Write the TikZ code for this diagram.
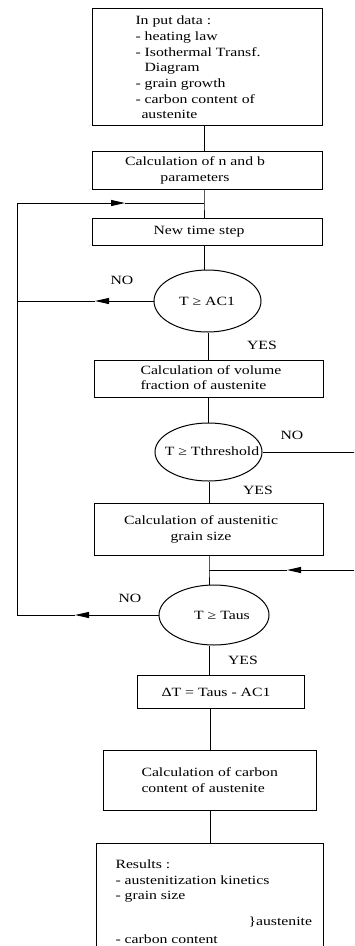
\documentclass[tikz,border=0pt]{standalone}
\usepackage{fontspec}
\setmainfont{Liberation Serif}[FakeStretch=1.25]
\usetikzlibrary{arrows.meta,shapes.geometric}
\begin{document}
\begin{tikzpicture}[x=1pt,y=-1pt, line width=1pt,
  every node/.style={font=\fontsize{12.6}{15.7}\selectfont, inner sep=0pt},
  box/.style={draw, rectangle},
  oval/.style={draw, ellipse},
  ctxt/.style={align=center},
  ltxt/.style={align=left, anchor=west},
  arr/.style={-{Triangle[length=14pt,width=6pt]}}
]
\useasboundingbox (0,0) rectangle (354,946);
\clip (0,0) rectangle (354,946);
% boxes
\node[box, minimum width=230pt, minimum height=117pt] (in) at (207,66.5) {};
\node[ltxt] (intxt) at (135,67.5) {In put data :\\- heating law\\- Isothermal Transf.\\\hspace*{9pt}Diagram\\- grain growth\\- carbon content of\\\hspace*{6pt}austenite};
\node[box, minimum width=230pt, minimum height=38pt] (cnb) at (207,170) {};
\node[ctxt] (cnbtxt) at (195,170.5) {Calculation of n and b\\parameters};
\node[box, minimum width=230pt, minimum height=27pt] (nts) at (207,231.5) {};
\node[ctxt] (ntstxt) at (199,231.5) {New time step};
\node[oval, minimum width=107pt, minimum height=62pt] (e1) at (207.5,301) {};
\node[ctxt] (e1txt) at (207,301) {T ≥ AC1};
\node[box, minimum width=229pt, minimum height=37pt] (vf) at (208.5,378.5) {};
\node[ltxt] (vftxt) at (140,377.5) {Calculation of volume\\fraction of austenite};
\node[oval, minimum width=107pt, minimum height=58pt] (e2) at (208.5,452) {};
\node[ctxt] (e2txt) at (212,451) {T ≥ Tthreshold};
\node[box, minimum width=229pt, minimum height=52pt] (gs) at (208.5,529) {};
\node[ctxt] (gstxt) at (201,529.5) {Calculation of austenitic\\grain size};
\node[oval, minimum width=110pt, minimum height=60pt] (e3) at (214,615) {};
\node[ctxt] (e3txt) at (222,615) {T ≥ Taus};
\node[box, minimum width=167pt, minimum height=33pt] (dt) at (220.5,691.5) {};
\node[ctxt] (dttxt) at (216,692.5) {ΔT = Taus - AC1};
\node[box, minimum width=213pt, minimum height=60pt] (cc) at (209.5,780) {};
\node[ltxt] (cctxt) at (141,780) {Calculation of carbon\\content of austenite};
\node[box, minimum width=227pt, minimum height=140pt] (res) at (209.5,913) {};
\node[ltxt] (restxt) at (115,881) {Results :\\- austenitization kinetics\\- grain size};
\node[ltxt] (restxt2) at (248,922) {\}austenite};
\node[ltxt] (restxt3) at (115,939) {- carbon content};
% labels
\node (no1) at (122,280) {NO};
\node (yes1) at (262,345) {YES};
\node (no2) at (292,435) {NO};
\node (yes2) at (258,490) {YES};
\node (no3) at (130,598) {NO};
\node (yes3) at (243,660) {YES};
% coordinates
\coordinate (xa) at (204,0);
\coordinate (xb) at (208,0);
\coordinate (xc) at (210,0);
\coordinate (j1) at (204,203);
\coordinate (lt) at (17,203);
\coordinate (l1) at (17,301);
\coordinate (l3) at (17,615);
\coordinate (j2) at (209,570);
\coordinate (r2) at (360,452);
\coordinate (r3) at (360,570);
\coordinate (a1) at (125,203);
\coordinate (a2) at (95,301);
\coordinate (a3) at (75,615);
\coordinate (a4) at (287,570);
% connectors
\draw (in.south -| xa) -- (cnb.north -| xa);
\draw (cnb.south -| xa) -- (j1) -- (nts.north -| xa);
\draw (nts.south -| xa) -- (e1.north -| xa);
\draw (e1.south -| xb) -- (vf.north -| xb);
\draw (vf.south -| xb) -- (e2.north -| xb);
\draw (e2.south -| j2) -- (gs.north -| j2);
\draw (gs.south -| j2) -- (j2) -- (e3.north -| j2);
\draw (e3.south -| j2) -- (dt.north -| j2);
\draw (dt.south -| xc) -- (cc.north -| xc);
\draw (cc.south -| xc) -- (res.north -| xc);
% loops
\draw (lt) -- (l3);
\draw[arr] (lt) -- (a1);
\draw (a1) -- (j1);
\draw[arr] (e1.west) -- (a2);
\draw (a2) -- (l1);
\draw[arr] (e3.west) -- (a3);
\draw (a3) -- (l3);
\draw (e2.east) -- (r2) -- (r3);
\draw[arr] (r3) -- (a4);
\draw (a4) -- (j2);
\end{tikzpicture}
\end{document}
